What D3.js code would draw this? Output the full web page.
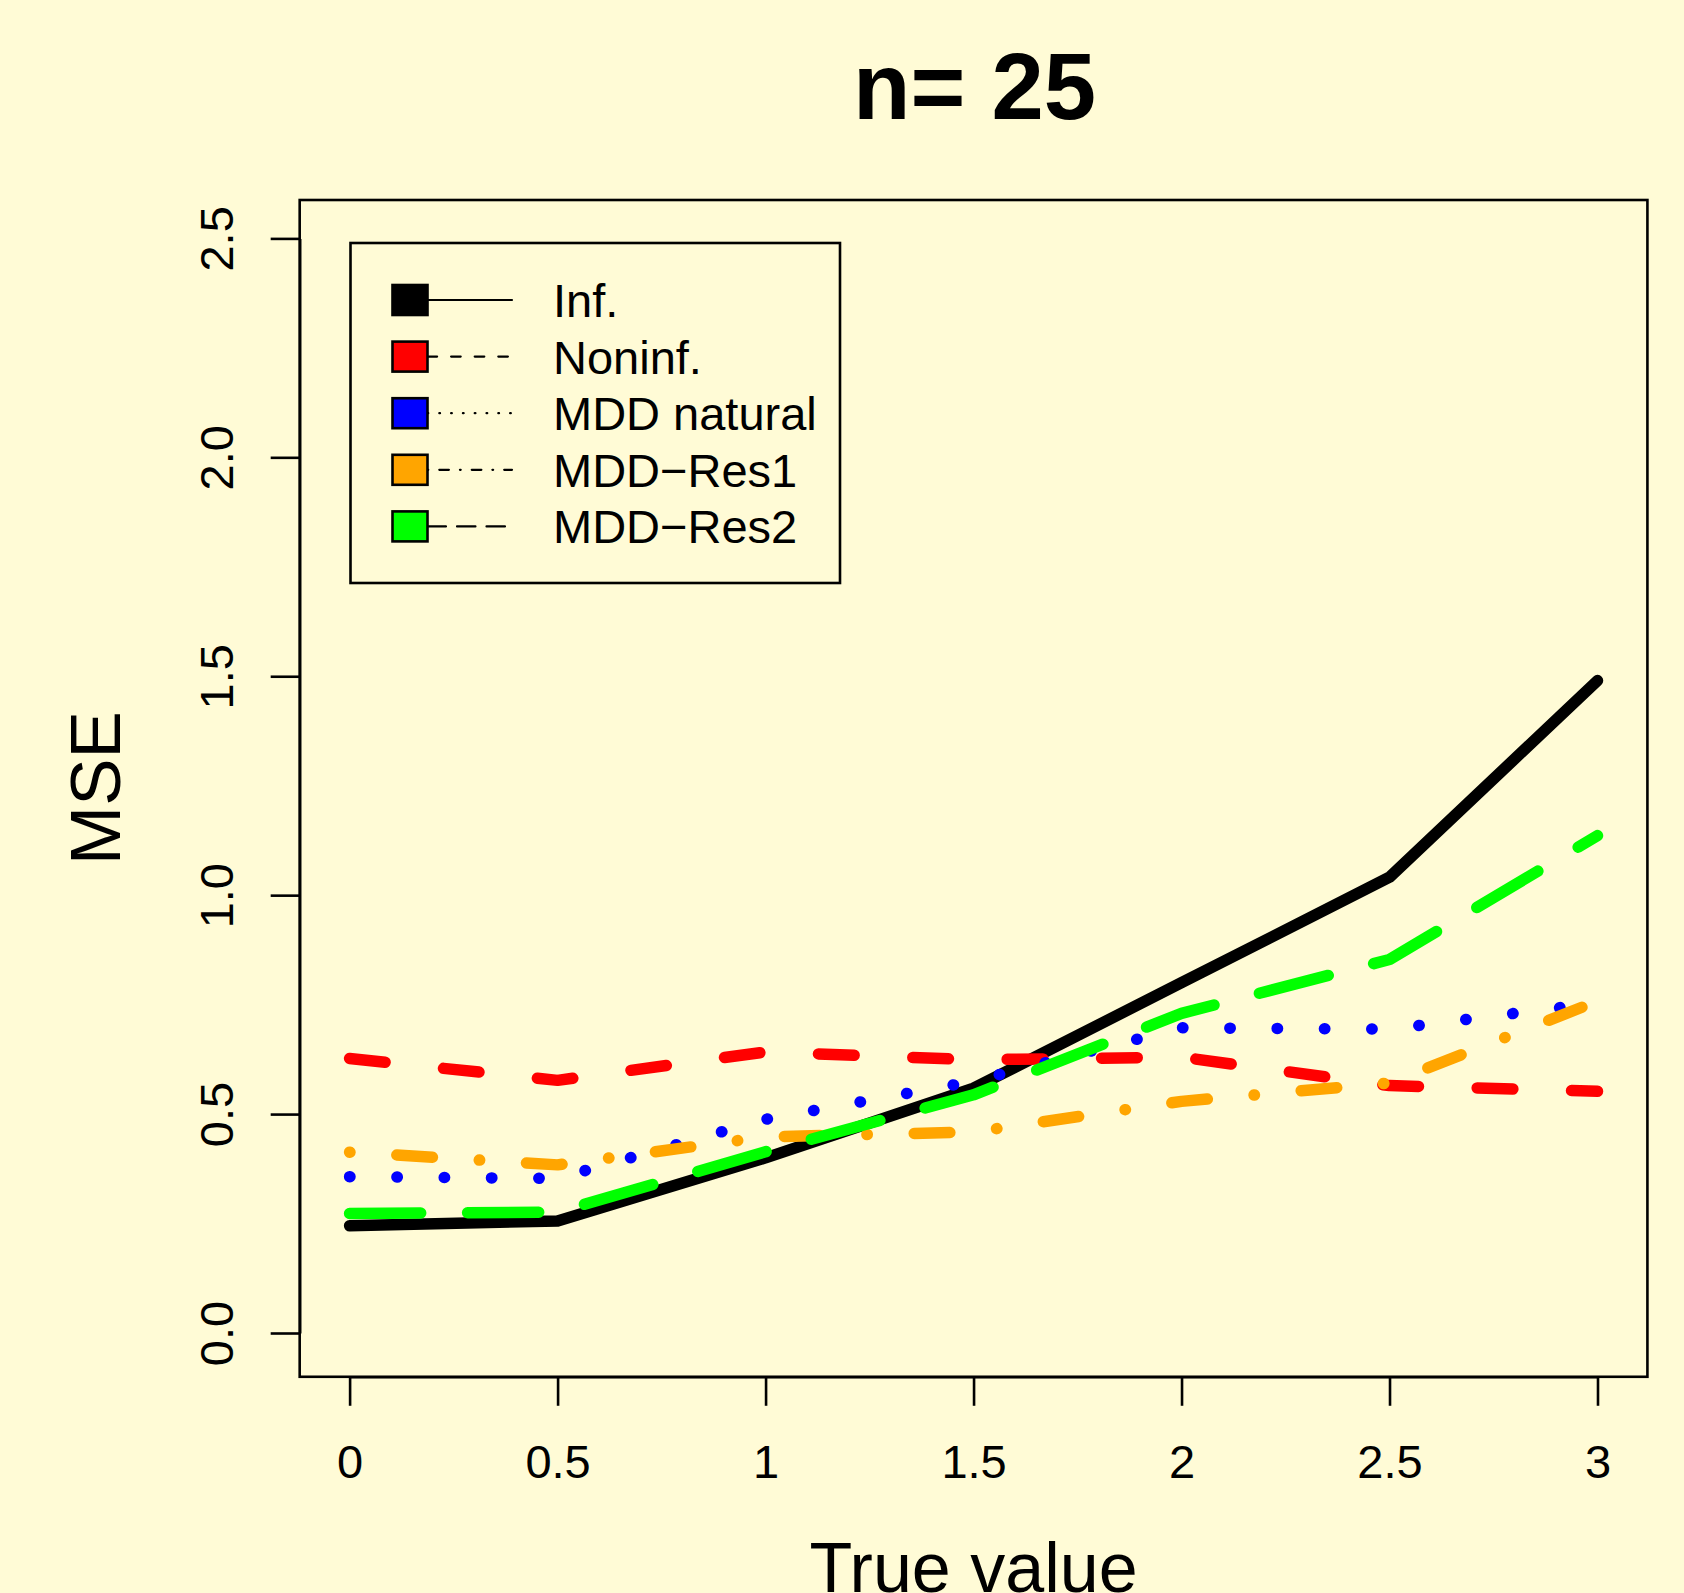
<!DOCTYPE html>
<html>
<head>
<meta charset="utf-8">
<script src="https://cdn.jsdelivr.net/npm/d3@7"></script>
<style>
html,body{margin:0;padding:0;background:#FFFBD6;}
svg{display:block;}
text{font-family:"Liberation Sans", Arial, Helvetica, sans-serif;fill:#000;}
</style>
</head>
<body>
<svg id="chart" width="1684" height="1593"></svg>
<script>
// ---- data ----
const xValues = [0, 0.5, 1, 1.5, 2, 2.5, 3];
const infValues = [0.245, 0.256, 0.400, 0.559, 0.800, 1.041, 1.490];
const noninfValues = [0.627, 0.577, 0.642, 0.624, 0.630, 0.565, 0.552];
const mddNaturalValues = [0.357, 0.353, 0.488, 0.575, 0.697, 0.694, 0.754];
const mddRes1Values = [0.413, 0.384, 0.448, 0.459, 0.529, 0.571, 0.758];
const mddRes2Values = [0.273, 0.276, 0.414, 0.544, 0.730, 0.853, 1.136];
const seriesNames = ["Inf.", "Noninf.", "MDD natural", "MDD\u2212Res1", "MDD\u2212Res2"];
const xTicks = [0, 0.5, 1, 1.5, 2, 2.5, 3];
const xTickLabels = ["0", "0.5", "1", "1.5", "2", "2.5", "3"];
const yTicks = [0, 0.5, 1, 1.5, 2, 2.5];
const yTickLabels = ["0.0", "0.5", "1.0", "1.5", "2.0", "2.5"];
const titleText = "n= 25";
const xTitle = "True value";
const yTitle = "MSE";

// ---- styles ----
const seriesColors = ["#000000", "#FF0000", "#0000FF", "#FFA500", "#00FF00"];
const seriesLty = [[], [4, 4], [1, 3], [1, 3, 4, 3], [7, 3]];

const seriesValues = [infValues, noninfValues, mddNaturalValues, mddRes1Values, mddRes2Values];

const svg = d3.select("#chart");
svg.append("rect").attr("width", 1684).attr("height", 1593).attr("fill", "#FFFBD6");

const x = d3.scaleLinear().domain([0, 3]).range([349.6, 1597.5]);
const y = d3.scaleLinear().domain([0, 2.5]).range([1333, 238.4]);

const box = {left: x(-0.12), right: x(3.12), top: 200, bottom: y(-0.1)};

function dashFor(lty, u, w) {
  if (!lty.length) return null;
  return lty.map((v, i) => i % 2 === 0 ? Math.max(v * u - w, 0.4) : v * u + w).join(" ");
}

// lines
const line = d3.line().x((d, i) => x(xValues[i])).y(d => y(d));
const U = 11.8, W = 11.5;
seriesValues.forEach((vals, k) => {
  svg.append("path")
    .attr("d", line(vals))
    .attr("fill", "none")
    .attr("stroke", seriesColors[k])
    .attr("stroke-width", W)
    .attr("stroke-linecap", "round")
    .attr("stroke-linejoin", "round")
    .attr("stroke-dasharray", dashFor(seriesLty[k], U, W));
});

// box
svg.append("rect")
  .attr("x", box.left).attr("y", box.top)
  .attr("width", box.right - box.left).attr("height", box.bottom - box.top)
  .attr("fill", "none").attr("stroke", "#000").attr("stroke-width", 2.6);

// x axis
const gx = svg.append("g").attr("transform", `translate(0,${box.bottom})`)
  .call(d3.axisBottom(x).tickValues(xTicks).tickFormat((d, i) => xTickLabels[i]).tickSize(29).tickSizeOuter(0));
gx.selectAll("path.domain").attr("stroke-width", 2.6);
gx.selectAll(".tick line").attr("stroke-width", 2.6);
gx.selectAll(".tick text").attr("y", 1478 - box.bottom).attr("dy", null)
  .style("font-size", "47px").attr("font-family", null);

// y axis
const gy = svg.append("g").attr("transform", `translate(${box.left},0)`)
  .call(d3.axisLeft(y).tickValues(yTicks).tickFormat((d, i) => yTickLabels[i]).tickSize(29).tickSizeOuter(0));
gy.selectAll("path.domain").attr("stroke-width", 2.6);
gy.selectAll(".tick line").attr("stroke-width", 2.6);
gy.selectAll(".tick text").attr("x", null).attr("dy", null)
  .attr("text-anchor", "middle")
  .attr("transform", `translate(${233 - box.left},0) rotate(-90)`)
  .style("font-size", "47px").attr("font-family", null);
svg.selectAll(".tick text").attr("fill", "#000");

// titles
svg.append("text").attr("x", 974.5).attr("y", 118.5).attr("text-anchor", "middle")
  .style("font-size", "94px").style("font-weight", "bold").text(titleText);
svg.append("text").attr("x", 973.5).attr("y", 1591.5).attr("text-anchor", "middle")
  .style("font-size", "70px").text(xTitle);
svg.append("text").attr("transform", `translate(120,788) rotate(-90)`).attr("text-anchor", "middle")
  .style("font-size", "71px").text(yTitle);

// legend
const leg = svg.append("g");
leg.append("rect").attr("x", 350.5).attr("y", 243).attr("width", 489.5).attr("height", 340)
  .attr("fill", "none").attr("stroke", "#000").attr("stroke-width", 2.6);
seriesNames.forEach((name, k) => {
  const cy = 300 + 56.6 * k;
  leg.append("line").attr("x1", 427.5).attr("x2", 512).attr("y1", cy).attr("y2", cy)
    .attr("stroke", "#000")
    .attr("stroke-width", 2.2)
    .attr("stroke-linecap", "round")
    .attr("stroke-dasharray", dashFor(seriesLty[k], 2.95, 2.2));
  leg.append("rect").attr("x", 392.5).attr("y", cy - 15).attr("width", 35).attr("height", 30)
    .attr("fill", seriesColors[k]).attr("stroke", "#000").attr("stroke-width", 2.6);
  leg.append("text").attr("x", 553).attr("y", cy + 17).style("font-size", "47px").text(name);
});
</script>
</body>
</html>
